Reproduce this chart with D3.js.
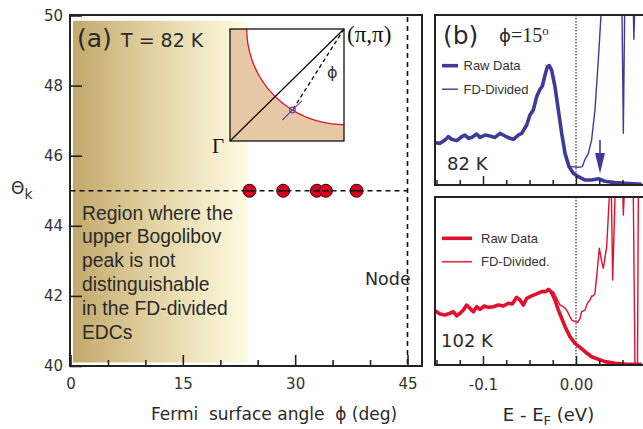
<!DOCTYPE html>
<html><head><meta charset="utf-8">
<script src="https://cdn.jsdelivr.net/npm/d3@7"></script>
<style>body{margin:0;background:#fff}svg{display:block}</style>
</head><body>
<script>
// ---------- DATA ----------
// Panel (a)
const phiDeg = [23.9, 28.4, 32.9, 34.1, 38.2];
const thetaK = [45, 45, 45, 45, 45];
const phiErr = [0.4, 0.4, 0.4, 0.4, 0.4];
const yTicksA = [40, 42, 44, 46, 48, 50];
const xMajorA = [0, 15, 30, 45];
const xMinorA = [5, 10, 20, 25, 35, 40];
const nodePhi = 45;
const regionPhiMax = 23.7;
const insetPhi = 32;       // degrees, cut shown in inset
const fsRadius = 0.853;    // Fermi surface radius around (pi,pi), units of pi
const regionText = ["Region where the", "upper Bogolibov", "peak is not", "distinguishable", "in the FD-divided", "EDCs"];

// Panel (b) top: 82 K
const e82 = [-0.1516,-0.1462,-0.1409,-0.1373,-0.1337,-0.1283,-0.1229,-0.1194,-0.1158,-0.1122,-0.1068,-0.1032,-0.0978,-0.0925,-0.0871,-0.0817,-0.0763,-0.0710,-0.0674,-0.0620,-0.0584,-0.0530,-0.0495,-0.0459,-0.0423,-0.0387,-0.0362,-0.0333,-0.0308,-0.0287,-0.0262,-0.0226,-0.0190,-0.0154,-0.0118,-0.0075,-0.0029,0.0025,0.0097,0.0168,0.0240,0.0312,0.0419,0.0527,0.0706];
const raw82 = [24.9,24.5,26.5,28.4,26.9,26.1,28.4,29.4,27.5,28.0,30.0,28.0,29.4,28.8,28.0,30.4,28.8,27.5,26.9,29.4,30.4,35.3,41.2,44.1,51.9,56.3,58.2,64.7,69.6,70.2,67.6,57.8,44.1,30.4,18.6,10.8,6.9,4.9,2.9,2.9,3.7,2.2,1.4,1.0,0.4];
const fdTailE82 = [-0.0050,0.0025,0.0068,0.0097,0.0133,0.0168,0.0204,0.0240,0.0269,0.0290,0.0470,0.0491,0.0509,0.0527,0.0590,0.0611,0.0622,0.0640,0.0720];
const fdTail82  = [10.8,10.4,10.8,15.1,18.6,26.5,44.1,73.5,100,120,120,120,30.4,120,120,120,85.7,120,120];
const fdSplit82 = 35; // FD-divided follows raw data up to this index

// Panel (b) bottom: 102 K
const e102 = [-0.1516,-0.1462,-0.1409,-0.1355,-0.1319,-0.1283,-0.1247,-0.1211,-0.1176,-0.1140,-0.1104,-0.1068,-0.1032,-0.0986,-0.0943,-0.0889,-0.0835,-0.0781,-0.0728,-0.0685,-0.0638,-0.0602,-0.0566,-0.0530,-0.0477,-0.0423,-0.0369,-0.0326,-0.0297,-0.0269,-0.0226,-0.0190,-0.0154,-0.0118,-0.0065,-0.0011,0.0043,0.0097,0.0168,0.0240,0.0312,0.0419,0.0527,0.0706];
const raw102 = [32.3,30.4,29.8,30.8,31.7,29.2,30.8,32.7,35.7,33.7,31.7,34.7,33.1,35.1,34.3,34.7,35.7,35.1,36.7,36.3,40.3,38.7,35.7,39.7,41.1,42.3,43.7,43.7,45.0,43.7,38.7,32.7,27.8,22.8,16.9,12.9,10.5,7.9,4.9,3.4,2.0,1.0,0.6,0.4];
const fdTailE102 = [-0.0244,-0.0208,-0.0172,-0.0136,-0.0100,-0.0047,-0.0011,0.0018,0.0043,0.0061,0.0097,0.0122,0.0151,0.0168,0.0186,0.0204,0.0222,0.0251,0.0276,0.0294,0.0330,0.0358,0.0376,0.0394,0.0430,0.0495,0.0509,0.0532,0.0613,0.0634,0.0661,0.0672,0.0720];
const fdTail102  = [43.7,39.7,35.7,34.7,32.7,26.8,25.8,25.4,27.8,31.7,32.7,36.7,38.7,41.1,41.1,42.7,52.6,69.5,61.5,57.6,70.4,100,120,50.6,120,120,89.3,120,120,0,0,120,120];
const fdSplit102 = 29;

const eTicks = [-0.15,-0.125,-0.1,-0.075,-0.05,-0.025,0,0.025,0.05,0.075];
const eMajor = [-0.1, 0];
const eLabels = ["-0.1", "0.00"];
const arrowE = 0.0258;

// ---------- DRAWING ----------
const W = 643, H = 429;
const svg = d3.select("body").append("svg").attr("width", W).attr("height", H);
const defs = svg.append("defs");

const BLUE = "#3e3a9a", RED = "#e0102e", FRAME = "#222", TXT = "#333";
const SANS = "'DejaVu Sans', sans-serif", ARIAL = "'Liberation Sans', Arial, sans-serif", SERIF = "'Liberation Serif', 'DejaVu Serif', serif";

// ===== Panel (a) =====
const A = {l: 70, r: 422, t: 15, b: 366};
const xA = d3.scaleLinear().domain([0, 45]).range([70.5, 407.5]);
const yA = d3.scaleLinear().domain([40, 50]).range([366, 15.5]);

const grad = defs.append("linearGradient").attr("id", "gA").attr("x1", 0).attr("x2", 1).attr("y1", 0).attr("y2", 0);
grad.append("stop").attr("offset", 0).attr("stop-color", "#c2a96c");
grad.append("stop").attr("offset", 0.45).attr("stop-color", "#e2d2a2");
grad.append("stop").attr("offset", 1).attr("stop-color", "#fffce3");

svg.append("rect").attr("x", xA(0) + 2.5).attr("y", yA(49.85))
  .attr("width", xA(regionPhiMax) - xA(0) - 2.5).attr("height", yA(40.1) - yA(49.85))
  .attr("fill", "url(#gA)");

// node line
svg.append("line").attr("x1", xA(nodePhi)).attr("x2", xA(nodePhi)).attr("y1", A.t + 2).attr("y2", A.b)
  .attr("stroke", "#111").attr("stroke-width", 1.6).attr("stroke-dasharray", "5,4");

// dots
svg.append("g").selectAll("circle").data(phiDeg).join("circle")
  .attr("cx", d => xA(d)).attr("cy", (d, i) => yA(thetaK[i])).attr("r", 6.5)
  .attr("fill", "#d8001f").attr("stroke", "#3a0008").attr("stroke-width", 1);
svg.append("g").selectAll("line").data(phiDeg).join("line")
  .attr("x1", (d, i) => xA(d - phiErr[i])).attr("x2", (d, i) => xA(d + phiErr[i]))
  .attr("y1", (d, i) => yA(thetaK[i])).attr("y2", (d, i) => yA(thetaK[i]))
  .attr("stroke", "#111").attr("stroke-width", 1.4);
// dashed 45 line
svg.append("line").attr("x1", xA(0)).attr("x2", xA(nodePhi)).attr("y1", yA(45)).attr("y2", yA(45))
  .attr("stroke", "#111").attr("stroke-width", 1.4).attr("stroke-dasharray", "5,4");

// frame
svg.append("rect").attr("x", A.l).attr("y", A.t).attr("width", A.r - A.l).attr("height", A.b - A.t)
  .attr("fill", "none").attr("stroke", FRAME).attr("stroke-width", 2);

// axes a
const gxA = svg.append("g").attr("transform", `translate(0,${A.b})`)
  .call(d3.axisBottom(xA).tickValues(xMajorA).tickSize(-11).tickPadding(12).tickFormat(d3.format("d")));
const gxAm = svg.append("g").attr("transform", `translate(0,${A.b})`)
  .call(d3.axisBottom(xA).tickValues(xMinorA).tickSize(-6).tickFormat(""));
const gyA = svg.append("g").attr("transform", `translate(${A.l},0)`)
  .call(d3.axisLeft(yA).tickValues(yTicksA).tickSize(-12).tickPadding(7).tickFormat(d3.format("d")));
[gxA, gxAm, gyA].forEach(g => {
  g.select(".domain").remove();
  g.selectAll("line").attr("stroke", FRAME).attr("stroke-width", 1.6);
  g.selectAll("text").attr("font-family", SANS).attr("font-size", 15).attr("fill", TXT);
});

// inset
const IN = {l: 230, r: 344, t: 29, b: 141};
const kx = d3.scaleLinear().domain([0, 1]).range([IN.l, IN.r]);
const ky = d3.scaleLinear().domain([0, 1]).range([IN.b, IN.t]);
svg.append("rect").attr("x", IN.l).attr("y", IN.t).attr("width", IN.r - IN.l).attr("height", IN.b - IN.t).attr("fill", "#e6c8a7");
const arcPts = d3.range(0, 91, 2).map(a => [1 - fsRadius * Math.cos(a * Math.PI / 180), 1 - fsRadius * Math.sin(a * Math.PI / 180)]);
const line2 = d3.line().x(d => kx(d[0])).y(d => ky(d[1]));
svg.append("path").attr("d", line2([[1, 1], ...arcPts, [1, 1]]) + "Z").attr("fill", "#fff");
svg.append("path").attr("d", line2(arcPts)).attr("fill", "none").attr("stroke", "#e3102c").attr("stroke-width", 1.3);
svg.append("line").attr("x1", kx(0)).attr("y1", ky(0)).attr("x2", kx(1)).attr("y2", ky(1)).attr("stroke", "#000").attr("stroke-width", 1.2);
const pr = insetPhi * Math.PI / 180;
const kp = [1 - fsRadius * Math.sin(pr), 1 - fsRadius * Math.cos(pr)];
svg.append("line").attr("x1", kx(1)).attr("y1", ky(1)).attr("x2", kx(kp[0])).attr("y2", ky(kp[1]))
  .attr("stroke", "#000").attr("stroke-width", 1.3).attr("stroke-dasharray", "4,3");
svg.append("line").attr("x1", kx(kp[0] - 0.09)).attr("y1", ky(kp[1] - 0.09)).attr("x2", kx(kp[0] + 0.08)).attr("y2", ky(kp[1] + 0.08))
  .attr("stroke", "#5b44a8").attr("stroke-width", 1.2);
svg.append("circle").attr("cx", kx(kp[0])).attr("cy", ky(kp[1])).attr("r", 2.8).attr("fill", "none").attr("stroke", "#5b44a8").attr("stroke-width", 1.2);
svg.append("rect").attr("x", IN.l).attr("y", IN.t).attr("width", IN.r - IN.l).attr("height", IN.b - IN.t)
  .attr("fill", "none").attr("stroke", "#111").attr("stroke-width", 1.3);
svg.append("text").attr("x", 347).attr("y", 42).attr("font-family", SERIF).attr("font-size", 23).attr("fill", "#111").text("(π,π)");
svg.append("text").attr("x", 212).attr("y", 153).attr("font-family", SERIF).attr("font-size", 21).attr("fill", "#111").text("Γ");
svg.append("text").attr("x", 327).attr("y", 78).attr("font-family", SANS).attr("font-size", 16).attr("fill", "#333").text("ϕ");

// texts a
svg.append("text").attr("x", 77).attr("y", 47).attr("font-family", SANS).attr("font-size", 25).attr("fill", "#2a2a2a").text("(a)");
svg.append("text").attr("x", 121).attr("y", 46.5).attr("font-family", SANS).attr("font-size", 19).attr("fill", "#2a2a2a").text("T = 82 K");
svg.append("g").selectAll("text").data(regionText).join("text")
  .attr("x", 82).attr("y", (d, i) => 219.5 + i * 23.8)
  .attr("font-family", ARIAL).attr("font-size", 19.3).attr("fill", "#2a2a2a").text(d => d);
svg.append("text").attr("x", 365).attr("y", 285).attr("font-family", SANS).attr("font-size", 17.5).attr("fill", "#2a2a2a").text("Node");
const th = svg.append("text").attr("x", 11).attr("y", 194).attr("font-family", SANS).attr("font-size", 17).attr("fill", "#333");
th.append("tspan").text("Θ");
th.append("tspan").attr("font-size", 14).attr("dy", 5).text("k");
const xl = svg.append("text").attr("x", 274).attr("y", 420).attr("text-anchor", "middle").attr("font-family", SANS).attr("font-size", 17).attr("fill", "#2a2a2a");
xl.text("Fermi  surface angle  ϕ (deg)").attr("xml:space", "preserve").style("white-space", "pre");

// ===== Panel (b) =====
const xB = d3.scaleLinear().domain([-0.15, 0]).range([436.5, 576]);
const B1 = {l: 435, r: 662, t: 15, b: 185};
const B2 = {l: 435, r: 662, t: 197, b: 365};
const y1 = d3.scaleLinear().domain([0, 100]).range([B1.b, B1.t]);
const y2 = d3.scaleLinear().domain([0, 100]).range([B2.b, B2.t]);

function panel(P, yS, id, eArr, rawArr, split, tailE, tailV, color) {
  defs.append("clipPath").attr("id", id).append("rect").attr("x", P.l).attr("y", P.t).attr("width", P.r - P.l).attr("height", P.b - P.t);
  const g = svg.append("g").attr("clip-path", `url(#${id})`);
  const ln = d3.line().x(d => xB(d[0])).y(d => yS(d[1]));
  const raw = eArr.map((e, i) => [e, rawArr[i]]);
  const fd = raw.slice(0, split + 1).concat(tailE.map((e, i) => [e, tailV[i]]));
  g.append("line").attr("x1", xB(0)).attr("x2", xB(0)).attr("y1", P.t).attr("y2", P.b)
    .attr("stroke", "#111").attr("stroke-width", 1).attr("stroke-dasharray", "1.5,1.5");
  g.append("path").attr("d", ln(fd)).attr("fill", "none").attr("stroke", color).attr("stroke-width", 1.4).attr("stroke-linejoin", "round");
  g.append("path").attr("d", ln(raw)).attr("fill", "none").attr("stroke", color).attr("stroke-width", 3.6).attr("stroke-linejoin", "round");
  svg.append("rect").attr("x", P.l).attr("y", P.t).attr("width", P.r - P.l).attr("height", P.b - P.t)
    .attr("fill", "none").attr("stroke", FRAME).attr("stroke-width", 2);
  const gx = svg.append("g").attr("transform", `translate(0,${P.b})`)
    .call(d3.axisBottom(xB).tickValues(eTicks.filter(t => !eMajor.includes(t))).tickSize(-5).tickFormat(""));
  const gxm = svg.append("g").attr("transform", `translate(0,${P.b})`)
    .call(d3.axisBottom(xB).tickValues(eMajor).tickSize(-9).tickPadding(14).tickFormat((d, i) => eLabels[i]));
  [gx, gxm].forEach(a => {
    a.select(".domain").remove();
    a.selectAll("line").attr("stroke", FRAME).attr("stroke-width", 1.5);
    a.selectAll("text").attr("font-family", SANS).attr("font-size", 15).attr("fill", TXT);
  });
  return gxm;
}
const t1 = panel(B1, y1, "c1", e82, raw82, fdSplit82, fdTailE82, fdTail82, BLUE);
t1.selectAll("text").remove();
panel(B2, y2, "c2", e102, raw102, fdSplit102, fdTailE102, fdTail102, RED);

// arrow
const ax = xB(arrowE);
svg.append("line").attr("x1", ax).attr("x2", ax).attr("y1", 140).attr("y2", 165).attr("stroke", BLUE).attr("stroke-width", 1.6);
svg.append("path").attr("d", `M${ax - 5},${153} L${ax + 5},${153} L${ax},${173.5} Z`).attr("fill", BLUE);

// legends
function legend(yTop, color, labels) {
  [3.6, 1.4].forEach((w, i) => {
    const yy = yTop + i * 23.5;
    svg.append("line").attr("x1", 442).attr("x2", 458 + (color === RED ? 14 : 0)).attr("y1", yy).attr("y2", yy).attr("stroke", color).attr("stroke-width", w);
    svg.append("text").attr("x", color === RED ? 481 : 463.5).attr("y", yy + 4.5).attr("font-family", ARIAL).attr("font-size", 13).attr("fill", TXT).text(labels[i]);
  });
}
legend(65.7, BLUE, ["Raw Data", "FD-Divided"]);
legend(238.3, RED, ["Raw Data", "FD-Divided."]);

svg.append("text").attr("x", 443).attr("y", 44).attr("font-family", SANS).attr("font-size", 25).attr("fill", "#2a2a2a").text("(b)");
const ph = svg.append("text").attr("x", 499).attr("y", 42).attr("font-family", SERIF).attr("font-size", 20).attr("fill", "#2a2a2a");
ph.append("tspan").attr("font-family", SANS).attr("font-size", 18).text("ϕ");
ph.append("tspan").text("=15");
ph.append("tspan").attr("font-size", 13).attr("dy", -7).text("o");
svg.append("text").attr("x", 447).attr("y", 169.5).attr("font-family", SANS).attr("font-size", 18).attr("fill", "#2a2a2a").text("82 K");
svg.append("text").attr("x", 441).attr("y", 347).attr("font-family", SANS).attr("font-size", 18).attr("fill", "#2a2a2a").text("102 K");
const el = svg.append("text").attr("x", 548.5).attr("y", 421).attr("text-anchor", "middle").attr("font-family", SANS).attr("font-size", 18).attr("fill", "#2a2a2a");
el.append("tspan").text("E - E");
el.append("tspan").attr("font-size", 13).attr("dy", 4).text("F");
el.append("tspan").attr("dy", -4).text(" (eV)");
</script>
</body></html>
